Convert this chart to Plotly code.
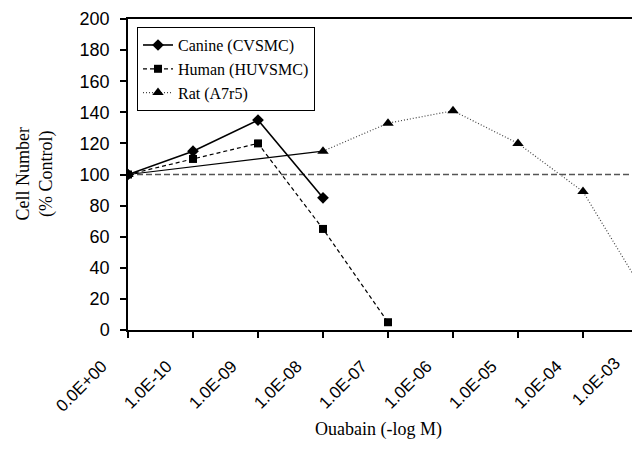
import plotly.graph_objects as go

# ---- data ----
tick_labels = ["0.0E+00", "1.0E-10", "1.0E-09", "1.0E-08", "1.0E-07",
               "1.0E-06", "1.0E-05", "1.0E-04", "1.0E-03"]
x_idx = list(range(len(tick_labels)))

canine = [100, 115, 135, 85, None, None, None, None, None]
human = [100, 110, 120, 65, 5, None, None, None, None]
rat = [100, None, None, 115, 133, 141, 120, 89, 20]
control = [100] * len(tick_labels)

serif = "Liberation Serif, Times New Roman, serif"
sans = "Liberation Sans, Arial, sans-serif"

fig = go.Figure()

# control reference line
fig.add_trace(go.Scatter(
    x=x_idx, y=control, mode="lines", showlegend=False, hoverinfo="skip",
    line=dict(color="#555555", width=1.5, dash="6px,3px")))

# rat: connector across missing values (solid thin)
rat_known = [(i, v) for i, v in zip(x_idx, rat) if v is not None]
fig.add_trace(go.Scatter(
    x=[rat_known[0][0], rat_known[1][0]], y=[rat_known[0][1], rat_known[1][1]],
    mode="lines", showlegend=False, hoverinfo="skip",
    line=dict(color="black", width=1.2)))

fig.add_trace(go.Scatter(
    x=x_idx, y=canine, mode="lines+markers", name="Canine (CVSMC)",
    line=dict(color="black", width=1.6),
    marker=dict(symbol="diamond", size=9, color="black")))

fig.add_trace(go.Scatter(
    x=x_idx, y=human, mode="lines+markers", name="Human (HUVSMC)",
    line=dict(color="black", width=1.2, dash="4px,3px"),
    marker=dict(symbol="square", size=8, color="black")))

fig.add_trace(go.Scatter(
    x=x_idx, y=rat, mode="lines+markers", name="Rat (A7r5)",
    connectgaps=False,
    line=dict(color="#444444", width=1.2, dash="1px,2px"),
    marker=dict(symbol="triangle-up", size=10, color="black")))

x_max = 7.877

# the page body has an 8px margin; size the figure so the plot area sits
# where it does in the reference (page x 128..640, y 19..330)
fig.update_layout(
    width=632, height=441,
    margin=dict(l=120, r=0, t=11, b=119, autoexpand=False),
    paper_bgcolor="white", plot_bgcolor="white",
    showlegend=True,
    legend=dict(
        x=0.0176, y=0.974, xanchor="left", yanchor="top",
        bgcolor="white", bordercolor="black", borderwidth=1,
        font=dict(family=serif, size=16, color="black"),
        tracegroupgap=0, itemwidth=30,
    ),
    xaxis=dict(
        range=[0, x_max], tickmode="array",
        tickvals=x_idx[:-1], ticktext=tick_labels[:-1],
        tickangle=-45, ticks="outside", ticklen=6, tickwidth=1.5,
        tickcolor="black", showline=True, linecolor="black", linewidth=1.5,
        mirror=True, showgrid=False, zeroline=False, automargin=False,
        tickfont=dict(family=sans, size=17, color="black"),
        ticklabelshift=-26, ticklabelstandoff=12,
    ),
    yaxis=dict(
        range=[0, 200], tickmode="array", tickvals=list(range(0, 201, 20)),
        ticks="outside", ticklen=6, tickwidth=1.5, tickcolor="black",
        showline=True, linecolor="black", linewidth=1.5,
        showgrid=False, zeroline=False, automargin=False,
        tickfont=dict(family=sans, size=18, color="black"),
        ticklabelstandoff=7,
    ),
    annotations=[
        dict(text="Cell Number<br>(% Control)", xref="paper", yref="paper",
             x=-(128 - 34) / 512, y=0.5, xanchor="center", yanchor="middle",
             textangle=-90, showarrow=False,
             font=dict(family=serif, size=18, color="black")),
        dict(text="Ouabain (-log M)", xref="paper", yref="paper",
             x=(378 - 128) / 512, y=(330 - 430) / 311,
             xanchor="center", yanchor="middle", showarrow=False,
             font=dict(family=serif, size=18, color="black")),
        dict(text=tick_labels[-1], xref="paper", yref="paper",
             x=(596 - 128) / 512, y=(330 - 381) / 311,
             xanchor="center", yanchor="middle", textangle=-45,
             showarrow=False,
             font=dict(family=sans, size=17, color="black")),
    ],
)

fig.write_html("out.html")
